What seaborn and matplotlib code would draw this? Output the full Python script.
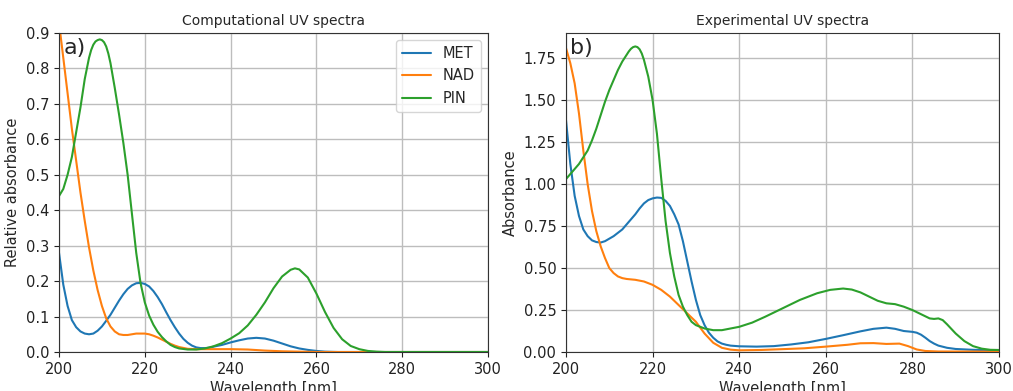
import numpy as np
import pandas as pd
import matplotlib
matplotlib.use("Agg")
import matplotlib.pyplot as plt
import seaborn as sns

# ---------------- Computational spectra (panel a) ----------------
comp_met_wl = [200, 201, 202, 203, 204, 205, 206, 207, 208, 209, 210, 211, 212, 213, 214, 215,
               216, 217, 218, 219, 220, 221, 222, 223, 224, 225, 226, 227, 228, 229, 230, 231,
               232, 233, 234, 235, 236, 238, 240, 242, 244, 246, 248, 250, 252, 254, 256, 258,
               260, 262, 265, 270, 280, 290, 300]
comp_met = [0.28, 0.19, 0.13, 0.09, 0.07, 0.058, 0.052, 0.05, 0.052, 0.06, 0.072, 0.088, 0.105,
            0.125, 0.145, 0.163, 0.178, 0.188, 0.194, 0.195, 0.192, 0.185, 0.172, 0.155, 0.135,
            0.112, 0.09, 0.07, 0.052, 0.037, 0.026, 0.018, 0.013, 0.011, 0.011, 0.012, 0.015,
            0.02, 0.027, 0.033, 0.038, 0.04, 0.038, 0.032, 0.024, 0.016, 0.01, 0.006, 0.003,
            0.001, 0.0, 0.0, 0.0, 0.0, 0.0]

comp_nad_wl = [200, 201, 202, 203, 204, 205, 206, 207, 208, 209, 210, 211, 212, 213, 214, 215,
               216, 217, 218, 219, 220, 221, 222, 223, 224, 225, 226, 227, 228, 230, 232, 236,
               240, 244, 248, 252, 256, 260, 270, 280, 290, 300]
comp_nad = [0.93, 0.83, 0.73, 0.63, 0.54, 0.45, 0.37, 0.295, 0.23, 0.175, 0.13, 0.095, 0.072,
            0.058, 0.05, 0.048, 0.048, 0.05, 0.052, 0.052, 0.052, 0.05, 0.046, 0.041, 0.035,
            0.029, 0.023, 0.018, 0.014, 0.009, 0.008, 0.008, 0.008, 0.007, 0.004, 0.002, 0.001,
            0.0, 0.0, 0.0, 0.0, 0.0]

comp_pin_wl = [200, 201, 202, 203, 204, 205, 206, 207, 207.5, 208, 208.5, 209, 209.5, 210,
               210.5, 211, 211.5, 212, 213, 214, 215, 216, 217, 218, 219, 220, 221, 222, 223,
               224, 225, 226, 227, 228, 230, 232, 234, 236, 238, 240, 242, 244, 246, 248, 250,
               252, 254, 255, 256, 258, 260, 262, 264, 266, 268, 270, 272, 274, 276, 280, 290,
               300]
comp_pin = [0.44, 0.46, 0.50, 0.55, 0.62, 0.69, 0.77, 0.83, 0.852, 0.867, 0.876, 0.88, 0.882,
            0.88, 0.874, 0.862, 0.842, 0.815, 0.745, 0.67, 0.59, 0.50, 0.39, 0.28, 0.195, 0.14,
            0.103, 0.077, 0.057, 0.042, 0.03, 0.02, 0.014, 0.01, 0.007, 0.007, 0.01, 0.016,
            0.025, 0.038, 0.053, 0.075, 0.105, 0.14, 0.18, 0.213, 0.232, 0.236, 0.233, 0.21,
            0.165, 0.113, 0.068, 0.036, 0.017, 0.008, 0.003, 0.001, 0.0, 0.0, 0.0, 0.0]

# ---------------- Experimental spectra (panel b) ----------------
exp_met_wl = [200, 201, 202, 203, 204, 205, 206, 207, 208, 209, 210, 211, 212, 213, 214, 215,
              216, 217, 218, 219, 220, 221, 222, 223, 224, 225, 226, 227, 228, 229, 230, 231,
              232, 233, 234, 235, 236, 237, 238, 240, 244, 248, 252, 256, 260, 264, 268, 271,
              274, 276, 278, 280, 281, 282, 283, 284, 285, 286, 288, 290, 294, 300]
exp_met = [1.38, 1.12, 0.93, 0.81, 0.73, 0.69, 0.665, 0.655, 0.652, 0.66, 0.675, 0.69, 0.71,
           0.73, 0.76, 0.79, 0.82, 0.855, 0.885, 0.905, 0.915, 0.92, 0.918, 0.9, 0.87, 0.82,
           0.76, 0.66, 0.54, 0.42, 0.31, 0.22, 0.16, 0.115, 0.085, 0.063, 0.05, 0.043, 0.038,
           0.034, 0.032, 0.035, 0.045, 0.058, 0.078, 0.1, 0.123, 0.138, 0.145, 0.138, 0.125,
           0.12, 0.115, 0.103, 0.085, 0.065, 0.05, 0.038, 0.025, 0.018, 0.013, 0.01]

exp_nad_wl = [200, 201, 202, 203, 204, 205, 206, 207, 208, 209, 210, 211, 212, 213, 214, 216,
              218, 220, 222, 224, 226, 228, 230, 232, 234, 236, 238, 240, 245, 250, 255, 260,
              265, 268, 271, 274, 277, 279, 281, 283, 286, 300]
exp_nad = [1.81, 1.72, 1.6, 1.42, 1.2, 1.0, 0.84, 0.72, 0.63, 0.56, 0.5, 0.47, 0.45, 0.44,
           0.435, 0.43, 0.42, 0.4, 0.37, 0.33, 0.28, 0.23, 0.18, 0.11, 0.055, 0.025, 0.014,
           0.01, 0.012, 0.017, 0.022, 0.032, 0.043, 0.052, 0.053, 0.048, 0.05, 0.035, 0.015,
           0.006, 0.003, 0.002]

exp_pin_wl = [200, 201, 202, 203, 204, 205, 206, 207, 208, 209, 210, 211, 212, 213, 214, 214.5,
              215, 215.5, 216, 216.5, 217, 217.5, 218, 219, 220, 221, 222, 223, 224, 225, 226,
              227, 228, 229, 230, 232, 234, 236, 238, 240, 243, 246, 250, 254, 258, 261, 264,
              266, 268, 270, 272, 274, 276, 278, 280, 282, 284, 285, 286, 287, 288, 290, 292,
              294, 296, 298, 300]
exp_pin = [1.03, 1.06, 1.09, 1.12, 1.16, 1.2, 1.26, 1.33, 1.41, 1.49, 1.56, 1.62, 1.68, 1.73,
           1.77, 1.79, 1.806, 1.816, 1.82, 1.816, 1.803, 1.778, 1.74, 1.64, 1.5, 1.3, 1.03,
           0.78, 0.59, 0.45, 0.34, 0.27, 0.22, 0.18, 0.16, 0.14, 0.13, 0.13, 0.14, 0.15, 0.175,
           0.21, 0.26, 0.31, 0.35, 0.37, 0.378, 0.372, 0.355, 0.33, 0.305, 0.29, 0.285, 0.27,
           0.25, 0.225, 0.2, 0.197, 0.2, 0.19, 0.165, 0.11, 0.065, 0.035, 0.02, 0.013, 0.012]

compounds = ["MET", "NAD", "PIN"]
colors = ["#1f77b4", "#ff7f0e", "#2ca02c"]


def long_frame(wls, vals):
    parts = []
    for name, w, v in zip(compounds, wls, vals):
        parts.append(pd.DataFrame({"wl": w, "val": v, "compound": name}))
    return pd.concat(parts, ignore_index=True)


df_comp = long_frame([comp_met_wl, comp_nad_wl, comp_pin_wl], [comp_met, comp_nad, comp_pin])
df_exp = long_frame([exp_met_wl, exp_nad_wl, exp_pin_wl], [exp_met, exp_nad, exp_pin])

sns.set_style("ticks")
plt.rcParams["font.family"] = ["DejaVu Sans"]

W, H = 1013, 391
fig = plt.figure(figsize=(W / 100, H / 100), dpi=100)
ax1 = fig.add_axes([59 / W, (H - 352) / H, (488 - 59) / W, (352 - 33) / H])
ax2 = fig.add_axes([566 / W, (H - 352) / H, (999 - 566) / W, (352 - 33) / H])

sns.lineplot(data=df_comp, x="wl", y="val", hue="compound", palette=colors,
             estimator=None, sort=False, ax=ax1, linewidth=1.5)
sns.lineplot(data=df_exp, x="wl", y="val", hue="compound", palette=colors,
             estimator=None, sort=False, ax=ax2, linewidth=1.5, legend=False)

for ax in (ax1, ax2):
    ax.set_xlim(200, 300)
    ax.set_xticks([200, 220, 240, 260, 280, 300])
    ax.grid(True, color="#bdbdbd", linewidth=1.0)
    ax.set_axisbelow(True)
    ax.set_xlabel("Wavelength [nm]", fontsize=10.5, labelpad=3)
    ax.tick_params(labelsize=10.5, direction="out", length=3.5, width=0.8, colors="#222222")
    for s in ax.spines.values():
        s.set_visible(True)
        s.set_color("#333333")
        s.set_linewidth(0.8)

ax1.set_ylim(0, 0.9)
ax1.set_yticks(np.arange(0, 0.91, 0.1))
ax1.set_yticklabels([f"{v:.1f}" for v in np.arange(0, 0.91, 0.1)])
ax1.set_ylabel("Relative absorbance", fontsize=10.5)
ax1.set_title("Computational UV spectra", fontsize=10)
ax1.text(0.01, 0.985, "a)", transform=ax1.transAxes, fontsize=16, va="top", ha="left")
leg = ax1.legend(loc="upper right", fontsize=10.5, title=None, frameon=True)

ax2.set_ylim(0, 1.9)
ax2.set_yticks(np.arange(0, 1.76, 0.25))
ax2.set_yticklabels([f"{v:.2f}" for v in np.arange(0, 1.76, 0.25)])
ax2.set_ylabel("Absorbance", fontsize=10.5)
ax2.set_title("Experimental UV spectra", fontsize=10)
ax2.text(0.01, 0.985, "b)", transform=ax2.transAxes, fontsize=16, va="top", ha="left")

fig.savefig("out.png", dpi=100)
